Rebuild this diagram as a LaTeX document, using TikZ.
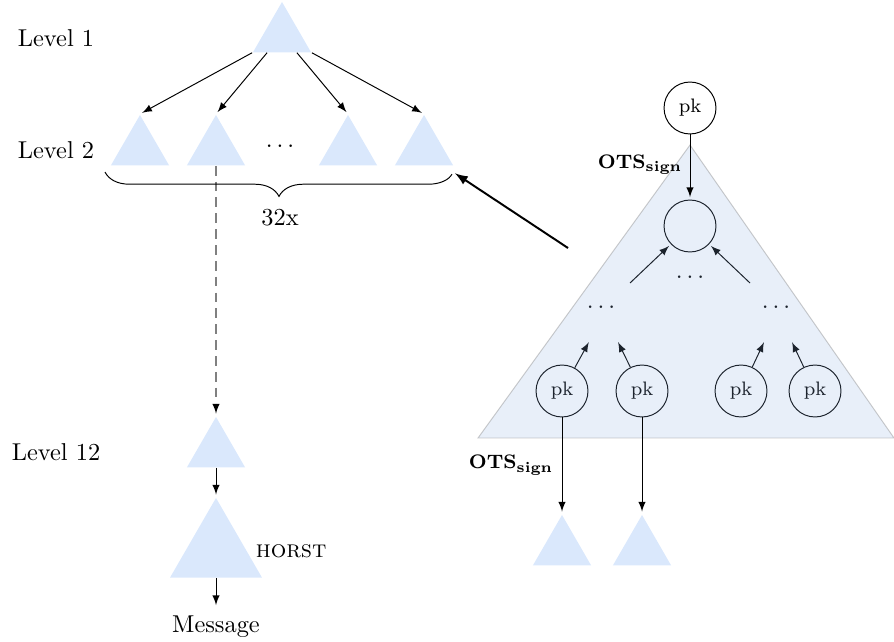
\documentclass[tikz,border=0pt]{standalone}
\usetikzlibrary{shapes.geometric,decorations.pathreplacing,calc}
\definecolor{treefill}{HTML}{DAE8FC}
\definecolor{ltreefill}{RGB}{140,175,225}

\begin{document}
\begin{tikzpicture}[x=0.41pt,y=-0.41pt,>=latex,shorten >=1pt,auto,
    tree node/.style={regular polygon,regular polygon sides=3,fill=treefill,inner sep=0pt,minimum size=27.5pt},
    big tree node/.style={tree node,minimum size=43.5pt},
    key node/.style={circle,draw,inner sep=0pt,minimum size=21.3pt,font=\footnotesize},
    ots node/.style={font=\footnotesize}]
                \useasboundingbox (0,0) rectangle (894,641);

                % left: hypertree
                \node (l1) at (56,38) {Level 1};
                \node (l2) at (56,150) {Level 2};
                \node (l12) at (56,452) {Level 12};

                \node[tree node] (top) at (282,35.5) {};
                \node[tree node] (a) at (140,148.5) {};
                \node[tree node] (b) at (216,148.5) {};
                \node (dots) at (280,146) {$\dots$};
                \node[tree node] (c) at (348,148.5) {};
                \node[tree node] (d) at (424,148.5) {};
                \node[tree node] (e) at (216,450.5) {};
                \node[big tree node] (horst) at (216,551) {};
                \node[right] (horstname) at (horst.east) {\textsc{horst}};
                \node (msg) at (216,627) {Message};

                \coordinate (bl) at (105,172);
                \coordinate (br) at (453,172);
                \node (count) at (280,218) {32x};

                \path[->]
                    (top.corner 2) edge (a.corner 1)
                    ($(top.corner 2)!0.25!(top.corner 3)$) edge (b.corner 1)
                    ($(top.corner 2)!0.75!(top.corner 3)$) edge (c.corner 1)
                    (top.corner 3) edge (d.corner 1)
                    (e.side 2) edge (horst.corner 1)
                    (horst.side 2) edge (msg)
                ;
                \draw[dashed,gray,semithick,dash pattern=on 4pt off 2.5pt] (b.side 2) -- ($(e.corner 1)+(0,-6)$);
                \draw[->] ($(e.corner 1)+(0,-8)$) -- (e.corner 1);
                \draw[decorate,decoration={brace,mirror,amplitude=10pt}] (bl) -- (br);

                % right: one subtree
                \node[key node] (root) at (690,108) {pk};
                \node[key node] (mid) at (690,226) {};
                \node (mdots) at (690,277) {$\dots$};
                \node (ldots) at (601,307) {$\dots$};
                \node (rdots) at (776,307) {$\dots$};
                \node[key node] (k1) at (562,391) {pk};
                \node[key node] (k2) at (642,391) {pk};
                \node[key node] (k3) at (741,391) {pk};
                \node[key node] (k4) at (815,391) {pk};
                \node[tree node] (s1) at (562,548.5) {};
                \node[tree node] (s2) at (642,548.5) {};

                \coordinate (la) at (630,283);
                \coordinate (ra) at (750,283);
                \coordinate (k1t) at (590,340);
                \coordinate (k2t) at (617,340);
                \coordinate (k3t) at (765,340);
                \coordinate (k4t) at (791,340);

                \path[->]
                    (la) edge (mid)
                    (ra) edge (mid)
                    (k1) edge (k1t)
                    (k2) edge (k2t)
                    (k3) edge (k3t)
                    (k4) edge (k4t)
                ;

                \path[fill=ltreefill,fill opacity=0.2,draw=gray,draw opacity=0.4]
                    (690,145) -- (894,438) -- (478,438) -- cycle;

                \path[->]
                    (root) edge (mid)
                    (k1) edge (s1.corner 1)
                    (k2) edge (s2.corner 1)
                ;
                \node[ots node] (ots1) at (640,165) {$\mathbf{OTS_{sign}}$};
                \node[ots node] (ots2) at (511,465) {$\mathbf{OTS_{sign}}$};

                \coordinate (link) at (568,248);
                \draw[->,thick] (link) -- (br);
\end{tikzpicture}
\end{document}
